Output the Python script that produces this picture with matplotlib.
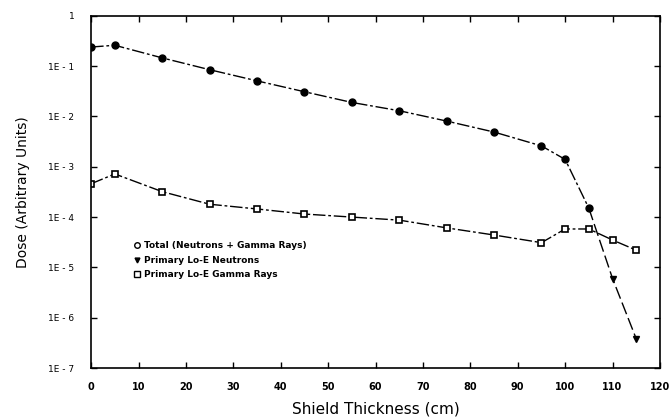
import matplotlib
matplotlib.use("Agg")
import matplotlib.pyplot as plt
from matplotlib.lines import Line2D

# Upper series (filled circles)
x_total = [0, 5, 15, 25, 35, 45, 55, 65, 75, 85, 95, 100, 105]
y_total = [0.24, 0.26, 0.146, 0.085, 0.051, 0.031, 0.019, 0.013, 0.0081, 0.0049, 0.0026, 0.0014, 1.5e-4]

# Continuation (down triangles)
x_neut = [105, 110, 115]
y_neut = [1.5e-4, 6e-6, 3.8e-7]

# Lower series (open squares)
x_gamma = [0, 5, 15, 25, 35, 45, 55, 65, 75, 85, 95, 100, 105, 110, 115]
y_gamma = [4.6e-4, 7.2e-4, 3.2e-4, 1.8e-4, 1.45e-4, 1.15e-4, 1.0e-4, 8.7e-5,
           6.1e-5, 4.4e-5, 3.1e-5, 5.8e-5, 5.8e-5, 3.5e-5, 2.2e-5]

x_ticks = [0, 10, 20, 30, 40, 50, 60, 70, 80, 90, 100, 110, 120]
y_ticks = [1e-7, 1e-6, 1e-5, 1e-4, 1e-3, 1e-2, 1e-1, 1]
y_tick_labels = ["1E - 7", "1E - 6", "1E - 5", "1E - 4", "1E - 3", "1E - 2", "1E - 1", "1"]

legend_labels = ["Total (Neutrons + Gamma Rays)", "Primary Lo-E Neutrons", "Primary Lo-E Gamma Rays"]

fig = plt.figure(figsize=(6.7, 4.17), dpi=100)
ax = fig.add_axes([0.136, 0.1175, 0.849, 0.8445])

ls = (0, (9, 2, 2, 2))
ax.plot(x_total, y_total, color="black", lw=1.0, linestyle=ls,
        marker="o", ms=5, mfc="black", mec="black")
ax.plot(x_neut, y_neut, color="black", lw=1.0, linestyle=(0, (9, 3)),
        marker="v", ms=4, mfc="black", mec="black", markevery=[1, 2])
ax.plot(x_gamma, y_gamma, color="black", lw=1.0, linestyle=ls,
        marker="s", ms=4.5, mfc="white", mec="black", mew=1.2)

ax.set_yscale("log")
ax.set_xlim(0, 120)
ax.set_ylim(1e-7, 1)
ax.set_xticks(x_ticks)
ax.set_xticklabels([str(t) for t in x_ticks], fontsize=7, fontweight="bold")
ax.set_yticks(y_ticks)
ax.set_yticklabels(y_tick_labels, fontsize=6.5)
ax.minorticks_off()
ax.tick_params(direction="in", top=True, right=True, length=4, width=1)
ax.tick_params(axis="x", pad=10)
ax.tick_params(axis="y", pad=12)
for s in ax.spines.values():
    s.set_linewidth(1.2)

ax.set_xlabel("Shield Thickness (cm)", fontsize=11, labelpad=7)
ax.set_ylabel("Dose (Arbitrary Units)", fontsize=10, labelpad=13)

handles = [
    Line2D([], [], linestyle="none", marker="o", ms=4, mfc="white", mec="black"),
    Line2D([], [], linestyle="none", marker="v", ms=3.5, mfc="black", mec="black"),
    Line2D([], [], linestyle="none", marker="s", ms=4, mfc="white", mec="black"),
]
leg = ax.legend(handles, legend_labels, loc="upper left", bbox_to_anchor=(0.07, 0.37),
                frameon=False, handlelength=0.6, handletextpad=0.5, labelspacing=0.6,
                prop={"size": 6.5, "weight": "bold"}, borderaxespad=0)

fig.savefig("out.png", dpi=100)
